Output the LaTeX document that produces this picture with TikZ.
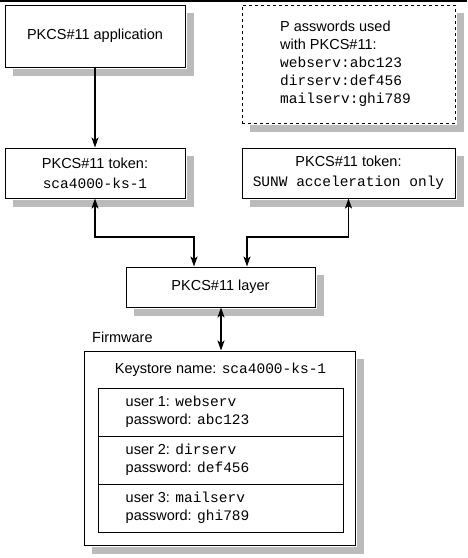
\documentclass[tikz,border=0pt]{standalone}
\usepackage{fontspec}
\setmainfont{Liberation Sans}
\setmonofont{Liberation Mono}
\usetikzlibrary{arrows.meta,calc}
\begin{document}
\begin{tikzpicture}[x=1pt,y=-1pt,
  font=\fontsize{14.5}{18}\selectfont,
  box/.style={draw=black,line width=1pt,fill=white,inner sep=0pt},
  shad/.style={draw={rgb,255:red,187;green,187;blue,187},line width=7pt,line cap=butt},
  arr/.style={line width=1.8pt,-{Stealth[length=10pt,width=7pt,inset=2.5pt]}},
  dbl/.style={line width=1.8pt,{Stealth[length=10pt,width=7pt,inset=2.5pt]}-{Stealth[length=10pt,width=7pt,inset=2.5pt]}},
  txt/.style={inner sep=0pt,align=left}]
\useasboundingbox (0,0) rectangle (467,558);
\draw[line width=1.5pt] (0,0.75) -- (467,0.75);

\node[box,minimum width=180pt,minimum height=62pt] (app) at (95,36)
  {PKCS\#11 application};
\node[box,dashed,minimum width=213pt,minimum height=118pt] (pw) at (348.5,64) {};
\node[txt,anchor=north west,align=left] (pwt) at (280,21)
  {P asswords used\\with PKCS\#11:\\\texttt{webserv:abc123}\\\texttt{dirserv:def456}\\\texttt{mailserv:ghi789}};

\node[box,minimum width=180pt,minimum height=50pt,align=center] (tok1) at (95,173)
  {PKCS\#11 token:\\[2pt]\texttt{sca4000-ks-1}};
\node[box,minimum width=213pt,minimum height=50pt,align=center] (tok2) at (348.5,173)
  {PKCS\#11 token:\\[2pt]\texttt{SUNW acceleration only}};

\node[box,minimum width=189pt,minimum height=40pt] (layer) at (220.5,287)
  {PKCS\#11 layer};

\node[txt,anchor=west] (fwl) at (92,337) {Firmware};
\node[box,minimum width=271pt,minimum height=194pt] (fw) at (219.5,448) {};
\node[txt] (kst) at (220.5,370) {Keystore name: \texttt{sca4000-ks-1}};

\node[box,minimum width=245pt,minimum height=48pt] (u1) at (220.5,412) {};
\node[box,minimum width=245pt,minimum height=48pt] (u2) at (220.5,460) {};
\node[box,minimum width=245pt,minimum height=48pt] (u3) at (220.5,508) {};
\node[txt,anchor=west] (u1t) at ([xshift=28pt]u1.west)
  {user 1: \texttt{webserv}\\password: \texttt{abc123}};
\node[txt,anchor=west] (u2t) at ([xshift=28pt]u2.west)
  {user 2: \texttt{dirserv}\\password: \texttt{def456}};
\node[txt,anchor=west] (u3t) at ([xshift=28pt]u3.west)
  {user 3: \texttt{mailserv}\\password: \texttt{ghi789}};

% shadows drawn as strokes along the right and bottom edges, outside each box
\foreach \n in {app,pw,tok1,tok2,layer,fw}{
  \draw[shad] ($(\n.north east)+(4.5,8)$) -- ($(\n.south east)+(4.5,4.5)$)
              -- ($(\n.south west)+(8,4.5)$);
}

\coordinate (jy) at (0,237);
\coordinate (l1) at ([xshift=-26.5pt]layer.north);
\coordinate (l2) at ([xshift=26.5pt]layer.north);
\coordinate (ls) at ([xshift=0.5pt]layer.south);

\draw[arr] (app.south) -- (tok1.north);
\draw[dbl] (tok1.south) -- (tok1.south |- jy) -- (l1 |- jy) -- (l1);
\draw[dbl] (tok2.south) -- (tok2.south |- jy) -- (l2 |- jy) -- (l2);
\draw[dbl] (ls) -- (ls |- fw.north);
\end{tikzpicture}
\end{document}
